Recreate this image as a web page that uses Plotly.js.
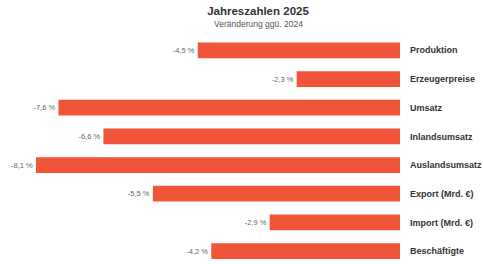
<!DOCTYPE html>
<html><head><meta charset="utf-8">
<script src="https://cdn.plot.ly/plotly-3.0.1.min.js"></script>
<style>html,body{margin:0;padding:0;background:#fff;}#c{width:483px;height:264px;}</style>
</head><body><div id="c"></div>
<script>
const categories = ["Produktion","Erzeugerpreise","Umsatz","Inlandsumsatz","Auslandsumsatz","Export (Mrd. €)","Import (Mrd. €)","Beschäftigte"];
const values = [-4.5, -2.3, -7.6, -6.6, -8.1, -5.5, -2.9, -4.2];
const labels = values.map(v => v.toFixed(1).replace('.', ',') + ' %');

const trace = {
  type: 'bar', orientation: 'h',
  x: values, y: categories,
  marker: {color: '#F0553A'},
  text: labels, textposition: 'outside', cliponaxis: false,
  textfont: {family: 'Liberation Sans, Arial, sans-serif', size: 7.5, color: '#666'},
  hoverinfo: 'none'
};
const layout = {
  width: 483, height: 264,
  margin: {l: 0, r: 83, t: 36, b: 0},
  paper_bgcolor: '#fff', plot_bgcolor: '#fff',
  showlegend: false,
  bargap: 0.45,
  font: {family: 'Liberation Sans, Arial, sans-serif', color: '#333'},
  title: {text: '<b>Jahreszahlen 2025</b>', x: 258/483, xanchor: 'center', y: 1 - 11/264, yanchor: 'middle',
          font: {size: 11.5, color: '#333'}},
  annotations: [{text: 'Veränderung ggü. 2024', xref: 'paper', yref: 'paper', x: 258/483 * 483/400, xanchor: 'center',
                 y: 1 + (36 - 24)/228, yanchor: 'middle', showarrow: false, font: {size: 8.5, color: '#555'}}],
  xaxis: {range: [-8.1 * 400 / 364, 0], showgrid: false, zeroline: false, showticklabels: false, ticks: '', fixedrange: true},
  yaxis: {side: 'right', range: [7.45, -0.5], showgrid: false, zeroline: false, ticks: '',
          ticklabelstandoff: 9, tickfont: {size: 9, color: '#333', weight: 'bold'}, automargin: false}
};
Plotly.newPlot('c', [trace], layout, {displayModeBar: false, staticPlot: true});
</script></body></html>
